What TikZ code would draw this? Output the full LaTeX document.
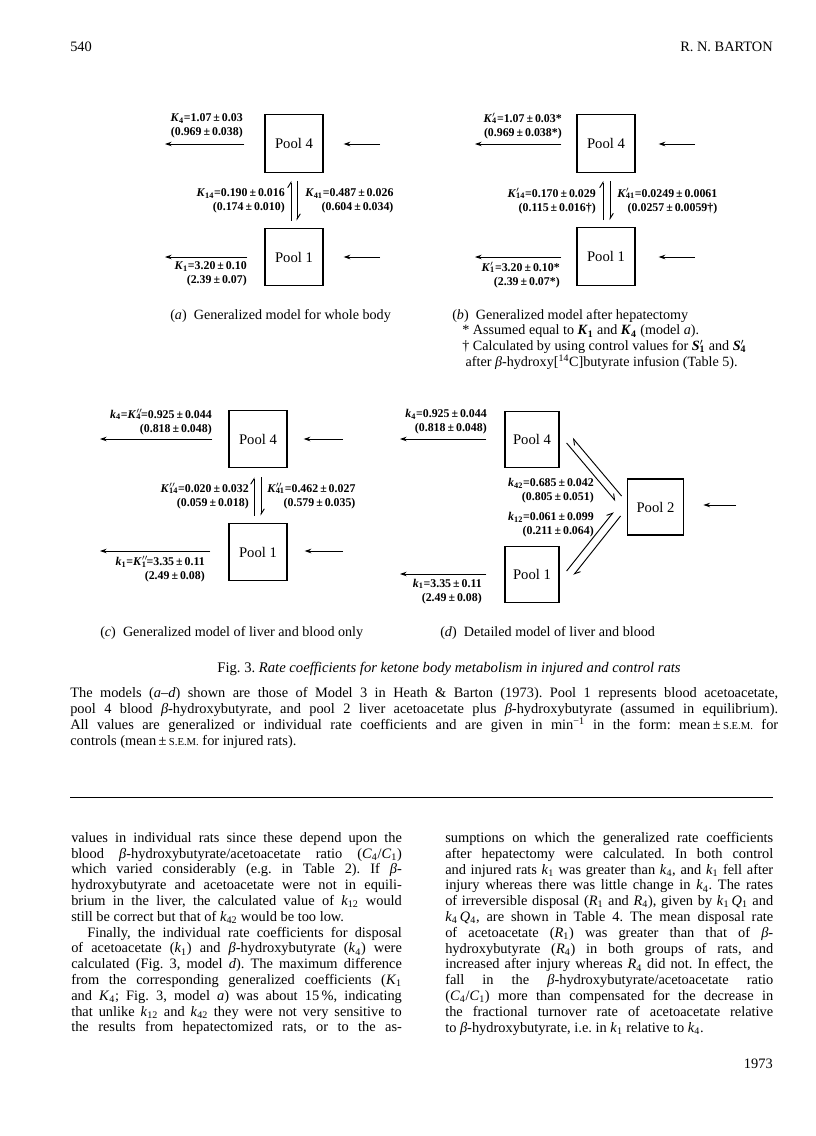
\documentclass[tikz,border=0pt]{standalone}
\usepackage{fontspec}
\setmainfont{Liberation Serif}
\usetikzlibrary{arrows.meta,positioning,calc}

% rate coefficient: letter, prime(s), subscript
\newcommand{\rc}[3]{\textbf{\textit{#1}}\makebox[0pt][l]{$^{#2}$}\textsubscript{\bfseries #3}}
\newcommand{\ks}[2]{\textit{#1}\textsubscript{#2}}
\newcommand{\sem}{{\footnotesize S.E.M.}}
\newlength{\colw}
\newcommand{\jl}[1]{\makebox[\colw][s]{#1}\\}

\begin{document}
\frenchspacing
\begin{tikzpicture}[x=0.75pt, y=-0.75pt,
  pool/.style={draw, line width=0.9pt, minimum width=43.5pt, minimum height=43pt,
    inner sep=0pt, font=\fontsize{11}{13}\selectfont},
  flow/.style={-{Stealth[length=5pt,width=3.4pt]}, line width=0.7pt},
  half/.style={-{Straight Barb[harpoon,length=4pt,width=5pt]}, line width=0.7pt},
  rate/.style={font=\fontsize{8.9}{10.3}\selectfont\bfseries, align=right, inner sep=0pt},
  capt/.style={font=\fontsize{10.6}{11.8}\selectfont, inner sep=0pt, anchor=base west, align=left},
  body/.style={font=\fontsize{10.8}{11.85}\selectfont, inner sep=0pt, anchor=north west, align=left},
]
  \fill[white] (0,0) rectangle (816,1136);
  \useasboundingbox (0,0) rectangle (816,1136);

  \node[body, anchor=base west] (pageno) at (70,51) {540};
  \node[body, anchor=base east] (author) at (773,51) {R. N. BARTON};

  % (a) whole body
  \node[pool] (a4) at (294,143.5) {Pool 4};
  \node[pool] (a1) at (294,257) {Pool 1};
  \coordinate (a4out) at (165,144);
  \coordinate (a4in) at (380,144);
  \coordinate (a1out) at (165,257);
  \coordinate (a1in) at (380,257);
  \draw[flow] ([shift={(-20,0.5)}]a4.west) -- (a4out);
  \draw[flow] (a4in) -- ([shift={(20,0.5)}]a4.east);
  \draw[flow] ([shift={(-17,0)}]a1.west) -- (a1out);
  \draw[flow] (a1in) -- ([shift={(20,0)}]a1.east);
  \draw[half] ([shift={(-3,-7)}]a1.north) -- ([shift={(-3,8)}]a4.south);
  \draw[half] ([shift={(3,8)}]a4.south) -- ([shift={(3,-7)}]a1.north);
  \node[rate, anchor=east] (aK4) at (243,126) {\rc{K}{}{4}=1.07\,±\,0.03\\(0.969\,±\,0.038)};
  \node[rate, anchor=east] (aK1) at (247,274) {\rc{K}{}{1}=3.20\,±\,0.10\\(2.39\,±\,0.07)};
  \node[rate, anchor=east] (aK14) at (285,201) {\rc{K}{}{14}=0.190\,±\,0.016\\(0.174\,±\,0.010)};
  \node[rate, anchor=west] (aK41) at (305,201) {\rc{K}{}{41}=0.487\,±\,0.026\\(0.604\,±\,0.034)};
  \node[capt] (capa) at (170,319) {(\textit{a})\enspace Generalized model for whole body};

  % (b) after hepatectomy
  \node[pool] (b4) at (606,143.5) {Pool 4};
  \node[pool] (b1) at (606,256.5) {Pool 1};
  \coordinate (b4out) at (475,144);
  \coordinate (b4in) at (695,144);
  \coordinate (b1out) at (475,257);
  \coordinate (b1in) at (695,257);
  \draw[flow] ([shift={(-15,0.5)}]b4.west) -- (b4out);
  \draw[flow] (b4in) -- ([shift={(23,0.5)}]b4.east);
  \draw[flow] ([shift={(-15,0.5)}]b1.west) -- (b1out);
  \draw[flow] (b1in) -- ([shift={(23,0.5)}]b1.east);
  \draw[half] ([shift={(-3,-7)}]b1.north) -- ([shift={(-3,8)}]b4.south);
  \draw[half] ([shift={(4,8)}]b4.south) -- ([shift={(4,-7)}]b1.north);
  \node[rate, anchor=east] (bK4) at (562,126) {\rc{K}{\prime}{4}=1.07\,±\,0.03*\\(0.969\,±\,0.038*)};
  \node[rate, anchor=east] (bK1) at (560,275) {\rc{K}{\prime}{1}=3.20\,±\,0.10*\\(2.39\,±\,0.07*)};
  \node[rate, anchor=east] (bK14) at (596,201) {\rc{K}{\prime}{14}=0.170\,±\,0.029\\(0.115\,±\,0.016†)};
  \node[rate, anchor=west] (bK41) at (617,201) {\rc{K}{\prime}{41}=0.0249\,±\,0.0061\\(0.0257\,±\,0.0059†)};
  \node[capt, anchor=north west] (capb) at (452,309) {(\textit{b})\enspace Generalized model after hepatectomy\\
    \hspace*{7.5pt}* Assumed equal to \rc{K}{}{1} and \rc{K}{}{4} (model \textit{a}).\\
    \hspace*{7.5pt}† Calculated by using control values for \rc{S}{\prime}{1} and \rc{S}{\prime}{4}\\
    \hspace*{10pt}after \textit{β}-hydroxy[\textsuperscript{14}C]butyrate infusion (Table 5).};

  % (c) liver and blood, generalized
  \node[pool] (c4) at (258,439) {Pool 4};
  \node[pool] (c1) at (258,552) {Pool 1};
  \coordinate (c4out) at (100,439);
  \coordinate (c4in) at (343,439);
  \coordinate (c1out) at (100,551);
  \coordinate (c1in) at (343,551);
  \draw[flow] ([shift={(-16,0)}]c4.west) -- (c4out);
  \draw[flow] (c4in) -- ([shift={(16,0)}]c4.east);
  \draw[flow] ([shift={(-18,-1)}]c1.west) -- (c1out);
  \draw[flow] (c1in) -- ([shift={(17,-1)}]c1.east);
  \draw[half] ([shift={(-4,-7)}]c1.north) -- ([shift={(-4,9)}]c4.south);
  \draw[half] ([shift={(3,9)}]c4.south) -- ([shift={(3,-7)}]c1.north);
  \node[rate, anchor=east] (cK4) at (212,422) {\rc{k}{}{4}=\rc{K}{\prime\prime}{4}=0.925\,±\,0.044\\(0.818\,±\,0.048)};
  \node[rate, anchor=east] (cK1) at (205,569) {\rc{k}{}{1}=\rc{K}{\prime\prime}{1}=3.35\,±\,0.11\\(2.49\,±\,0.08)};
  \node[rate, anchor=east] (cK14) at (249,496) {\rc{K}{\prime\prime}{14}=0.020\,±\,0.032\\(0.059\,±\,0.018)};
  \node[rate, anchor=west] (cK41) at (267,496) {\rc{K}{\prime\prime}{41}=0.462\,±\,0.027\\(0.579\,±\,0.035)};
  \node[capt] (capc) at (100,636) {(\textit{c})\enspace Generalized model of liver and blood only};

  % (d) detailed model
  \node[pool, minimum width=40.5pt, minimum height=41.5pt] (d4) at (532,439.5) {Pool 4};
  \node[pool, minimum width=40.5pt, minimum height=42.5pt] (d1) at (532,574.5) {Pool 1};
  \node[pool, minimum width=42.5pt, minimum height=42pt] (d2) at (655.5,507) {Pool 2};
  \coordinate (d4out) at (400,439);
  \coordinate (d1out) at (400,574);
  \coordinate (d2in) at (736,505);
  \draw[flow] ([shift={(-18,-0.5)}]d4.west) -- (d4out);
  \draw[flow] ([shift={(-18,-0.5)}]d1.west) -- (d1out);
  \draw[flow] (d2in) -- ([shift={(19,-2)}]d2.east);
  \draw[half] ([shift={(-5,-11)}]d2.west) -- ([shift={(13,-1.5)}]d4.east);
  \draw[half] ([shift={(7,3.5)}]d4.east) -- ([shift={(-11,-6)}]d2.west);
  \draw[half] ([shift={(7,-3.5)}]d1.east) -- ([shift={(-13,5)}]d2.west);
  \draw[half] ([shift={(-6,9)}]d2.west) -- ([shift={(14,0.5)}]d1.east);
  \node[rate, anchor=east] (dK4) at (487,422) {\rc{k}{}{4}=0.925\,±\,0.044\\(0.818\,±\,0.048)};
  \node[rate, anchor=east] (dK42) at (594,491) {\rc{k}{}{42}=0.685\,±\,0.042\\(0.805\,±\,0.051)};
  \node[rate, anchor=east] (dK12) at (594,525) {\rc{k}{}{12}=0.061\,±\,0.099\\(0.211\,±\,0.064)};
  \node[rate, anchor=east] (dK1) at (482,591.5) {\rc{k}{}{1}=3.35\,±\,0.11\\(2.49\,±\,0.08)};
  \node[capt] (capd) at (440,636) {(\textit{d})\enspace Detailed model of liver and blood};

  \node[capt, anchor=base, font=\fontsize{11}{12}\selectfont] (figcap) at (449,672) {Fig. 3. \textit{Rate coefficients for ketone body metabolism in injured and control rats}};

  % legend paragraph
  \setlength{\colw}{531pt}
  \node[body, font=\fontsize{10.8}{12}\selectfont] (legend) at (70,687) {%
    \jl{The models (\textit{a–d}) shown are those of Model 3 in Heath \& Barton (1973). Pool 1 represents blood acetoacetate,}
    \jl{pool 4 blood \textit{β}-hydroxybutyrate, and pool 2 liver acetoacetate plus \textit{β}-hydroxybutyrate (assumed in equilibrium).}
    \jl{All values are generalized or individual rate coefficients and are given in min\textsuperscript{−1} in the form: mean\,±\,\sem{} for}
    controls (mean\,±\,\sem{} for injured rats).};

  \coordinate (ruleL) at (70,797);
  \coordinate (ruleR) at (773,797);
  \draw[line width=0.6pt] (ruleL) -- (ruleR);

  % two text columns
  \setlength{\colw}{248pt}
  \node[body] (colL) at (71,832) {%
    \jl{values in individual rats since these depend upon the}
    \jl{blood \textit{β}-hydroxybutyrate/acetoacetate ratio (\ks{C}{4}/\ks{C}{1})}
    \jl{which varied considerably (e.g. in Table 2). If \textit{β}-}
    \jl{hydroxybutyrate and acetoacetate were not in equili-}
    \jl{brium in the liver, the calculated value of \ks{k}{12} would}
    still be correct but that of \ks{k}{42} would be too low.\\
    \jl{\hspace*{12pt}Finally, the individual rate coefficients for disposal}
    \jl{of acetoacetate (\ks{k}{1}) and \textit{β}-hydroxybutyrate (\ks{k}{4}) were}
    \jl{calculated (Fig. 3, model \textit{d}). The maximum difference}
    \jl{from the corresponding generalized coefficients (\ks{K}{1}}
    \jl{and \ks{K}{4}; Fig. 3, model \textit{a}) was about 15\,\%, indicating}
    \jl{that unlike \ks{k}{12} and \ks{k}{42} they were not very sensitive to}
    \jl{the results from hepatectomized rats, or to the as-}};
  \setlength{\colw}{246pt}
  \node[body] (colR) at (445,832) {%
    \jl{sumptions on which the generalized rate coefficients}
    \jl{after hepatectomy were calculated. In both control}
    \jl{and injured rats \ks{k}{1} was greater than \ks{k}{4}, and \ks{k}{1} fell after}
    \jl{injury whereas there was little change in \ks{k}{4}. The rates}
    \jl{of irreversible disposal (\ks{R}{1} and \ks{R}{4}), given by \ks{k}{1}\,\ks{Q}{1} and}
    \jl{\ks{k}{4}\,\ks{Q}{4}, are shown in Table 4. The mean disposal rate}
    \jl{of acetoacetate (\ks{R}{1}) was greater than that of \textit{β}-}
    \jl{hydroxybutyrate (\ks{R}{4}) in both groups of rats, and}
    \jl{increased after injury whereas \ks{R}{4} did not. In effect, the}
    \jl{fall in the \textit{β}-hydroxybutyrate/acetoacetate ratio}
    \jl{(\ks{C}{4}/\ks{C}{1}) more than compensated for the decrease in}
    \jl{the fractional turnover rate of acetoacetate relative}
    to \textit{β}-hydroxybutyrate, i.e. in \ks{k}{1} relative to \ks{k}{4}.};

  \node[body, anchor=base east] (year) at (773,1068) {1973};
\end{tikzpicture}
\end{document}
